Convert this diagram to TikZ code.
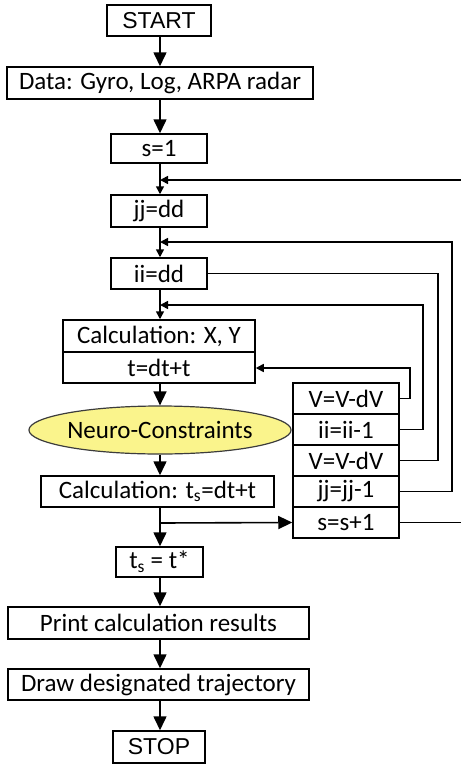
\documentclass[tikz,border=0pt]{standalone}
\usepackage{fontspec}
\setmainfont{Carlito}
\newfontfamily\arialfont{Liberation Sans}
\usetikzlibrary{arrows.meta,shapes.geometric}
\definecolor{neuroyellow}{RGB}{250,244,140}
\definecolor{edgegray}{RGB}{60,60,60}
\tikzset{
  box/.style={draw=black, line width=1.5pt, inner sep=0pt, font=\fontsize{25}{28}\selectfont},
  bigarrow/.style={line width=1.6pt, -{Triangle[width=13pt,length=14pt]}},
  smallarrow/.style={line width=1.6pt, -{Triangle[width=8pt,length=8pt]}},
  plainline/.style={line width=1.6pt},
}
\begin{document}
\begin{tikzpicture}[x=1pt,y=-1pt]
\clip (0,0) rectangle (461,764);
\fill[white] (0,0) rectangle (461,764);
% main column
\node[box, minimum width=104pt, minimum height=31pt, font=\arialfont\fontsize{23}{26}\selectfont] (start) at (159,20.5) {START};
\node[box, minimum width=306pt, minimum height=32pt] (data) at (160,83) {Data: Gyro, Log, ARPA radar};
\node[box, minimum width=96pt, minimum height=29pt] (s1) at (159,148.5) {s=1};
\node[box, minimum width=96pt, minimum height=32pt] (jj) at (159,211) {jj=dd};
\node[box, minimum width=96pt, minimum height=31pt] (ii) at (159,273.5) {ii=dd};
\node[box, minimum width=192pt, minimum height=32pt] (calcxy) at (159,336) {Calculation: X, Y};
\node[box, minimum width=192pt, minimum height=31pt] (tdt) at (159,367.5) {t=dt+t};
\node[ellipse, draw=edgegray, line width=1.2pt, fill=neuroyellow, minimum width=236pt, minimum height=48pt, inner sep=0pt, font=\fontsize{25}{28}\selectfont] (neuro) at (160,430) {Neuro-Constraints};
\node[box, minimum width=233pt, minimum height=31pt] (calcts) at (157.5,491.5) {Calculation: t\textsubscript{s}=dt+t};
\node[box, minimum width=87pt, minimum height=30pt] (ts) at (159.5,562) {t\textsubscript{s} = t*};
\node[box, minimum width=301pt, minimum height=32pt] (print) at (158.5,623) {Print calculation results};
\node[box, minimum width=301pt, minimum height=31pt] (drawt) at (158.5,684.5) {Draw designated trajectory};
\node[box, minimum width=92pt, minimum height=32pt, font=\arialfont\fontsize{23}{26}\selectfont] (stop) at (159,747) {STOP};
% right stack
\node[box, minimum width=106pt, minimum height=31pt] (r1) at (346,398.5) {V=V-dV};
\node[box, minimum width=106pt, minimum height=31pt] (r2) at (346,429.5) {ii=ii-1};
\node[box, minimum width=106pt, minimum height=31pt] (r3) at (346,460.5) {V=V-dV};
\node[box, minimum width=106pt, minimum height=31pt] (r4) at (346,491.5) {jj=jj-1};
\node[box, minimum width=106pt, minimum height=31pt] (r5) at (346,522.5) {s=s+1};
% junction points on the main axis
\coordinate (j1) at (160,180);
\coordinate (j2) at (160,242);
\coordinate (j3) at (160,305);
\coordinate (jb) at (160,523);
% main flow
\draw[bigarrow] (start.south -| j1) -- (data.north -| j1);
\draw[bigarrow] (data.south -| j1) -- (s1.north -| j1);
\draw[smallarrow] (s1.south -| j1) -- (jj.north -| j1);
\draw[smallarrow] (jj.south -| j1) -- (ii.north -| j1);
\draw[smallarrow] (ii.south -| j1) -- (calcxy.north -| j1);
\draw[bigarrow] (tdt.south -| j1) -- (neuro.north);
\draw[bigarrow] (neuro.south) -- (calcts.north -| j1);
\draw[bigarrow] (calcts.south -| j1) -- (ts.north -| j1);
\draw[bigarrow] (ts.south -| j1) -- (print.north -| j1);
\draw[bigarrow] (print.south -| j1) -- (drawt.north -| j1);
\draw[bigarrow] (drawt.south -| j1) -- (stop.north -| j1);
% branch to s=s+1
\draw[bigarrow] (jb) -- (r5.west);
% loops
\draw[smallarrow] (r1.east) -- (410,398.5) -- (410,368) -- (tdt.east |- 0,368);
\draw[smallarrow] (r2.east) -- (423,429.5) -- (423,305) -- (j3);
\draw[plainline] (ii.east) -- (438,273.5) -- (438,460.5) -- (r3.east);
\draw[smallarrow] (r4.east) -- (452,491.5) -- (452,242) -- (j2);
\draw[smallarrow] (r5.east) -- (470,522.5) -- (470,180) -- (j1);
\end{tikzpicture}
\end{document}
